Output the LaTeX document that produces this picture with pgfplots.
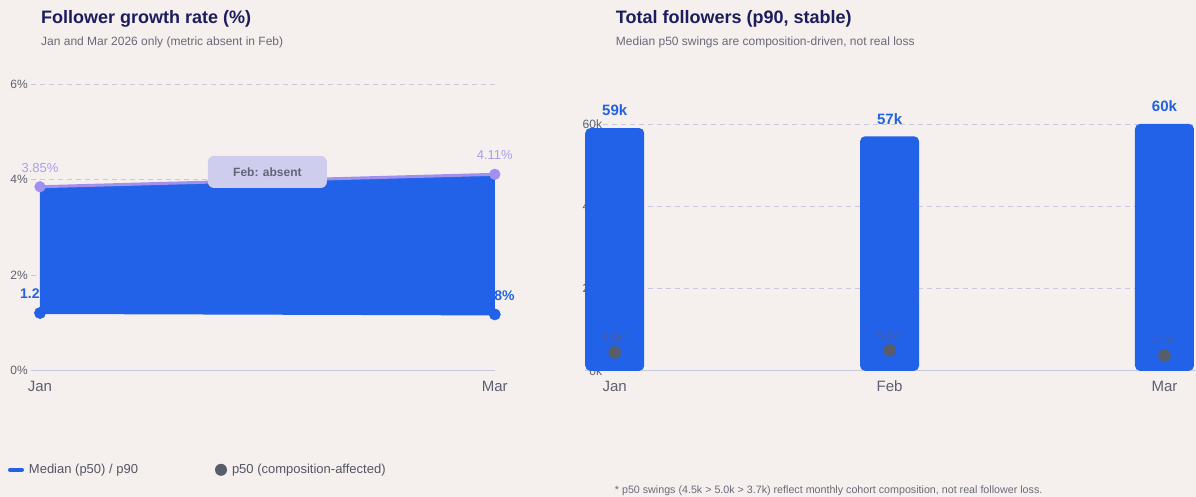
\documentclass[border=0pt]{standalone}
\usepackage{pgfplots}
\pgfplotsset{compat=1.18}
\usepackage{fontspec}
\setmainfont{Liberation Sans}
\definecolor{bgc}{RGB}{245,240,238}
\definecolor{pblue}{RGB}{34,98,232}
\definecolor{ppurple}{RGB}{160,145,238}
\definecolor{plabel}{RGB}{170,158,240}
\definecolor{navy}{RGB}{28,28,95}
\definecolor{subg}{RGB}{85,85,98}
\definecolor{subl}{RGB}{105,105,120}
\definecolor{tickg}{RGB}{95,95,112}
\definecolor{gridc}{RGB}{200,200,222}
\definecolor{dotg}{RGB}{88,93,108}
\definecolor{dotlab}{RGB}{74,92,165}
\definecolor{boxc}{RGB}{207,205,238}
\definecolor{boxt}{RGB}{100,100,118}
\pagecolor{bgc}
\begin{document}
\begin{tikzpicture}
% ---------- left chart ----------
\begin{axis}[
  set layers,
  at={(31pt,126pt)}, anchor=south west,
  scale only axis, width=464pt, height=287pt,
  xmin=-0.0396, xmax=2, ymin=0, ymax=6,
  xtick={0,2}, xticklabels={Jan,Mar},
  ytick={0,2,4,6}, yticklabels={0\%,2\%,4\%,6\%},
  axis x line*=bottom, axis y line*=left,
  x axis line style={draw=gridc, line width=1pt},
  y axis line style={draw=none},
  major tick length=0pt,
  ymajorgrids, grid style={gridc, dash pattern=on 5pt off 4pt, line width=0.8pt},
  yticklabel style={font=\fontsize{12}{14}\selectfont, text=tickg, anchor=east, inner sep=0pt, xshift=-3pt},
  xticklabel style={font=\fontsize{15}{17}\selectfont, text=tickg, anchor=north, inner sep=0pt, yshift=-10pt},
  clip=false,
  legend columns=2, legend cell align=left,
  legend style={at={(-0.0496,-0.345)}, anchor=west, draw=none, fill=none, inner sep=0pt, outer sep=0pt,
    font=\fontsize{13}{15}\selectfont,
    nodes={inner sep=0pt, text=subg},
    /tikz/every odd column/.append style={column sep=5pt},
    /tikz/every even column/.append style={column sep=77pt}},
]
\addplot[forget plot, only marks, mark=none, nodes near coords, point meta=explicit symbolic,
  every node near coord/.append style={anchor=center, yshift=19pt, font=\bfseries\fontsize{14}{16}\selectfont, text=pblue}]
  coordinates {(0,1.21)[1.21\%] (2,1.18)[1.18\%]};
\addplot[forget plot, fill=pblue, draw=none] coordinates {(0,1.21) (2,1.18) (2,4.11) (0,3.85) (0,1.21)};
\addplot[forget plot, color=pblue, line width=2pt, mark=*, mark size=5.6pt, mark options={solid, line width=0.6pt}]
  coordinates {(0,1.21) (2,1.18)};
\addplot[forget plot, color=ppurple, line width=3pt, mark=*, mark size=5.3pt, mark options={solid, line width=0.6pt},
  nodes near coords, point meta=explicit symbolic,
  every node near coord/.append style={anchor=center, yshift=19pt, font=\fontsize{13}{15}\selectfont, text=plabel}]
  coordinates {(0,3.85)[3.85\%] (2,4.11)[4.11\%]};
\node[fill=boxc, rounded corners=6pt, minimum width=119pt, minimum height=32pt, inner sep=0pt,
  font=\bfseries\fontsize{12}{14}\selectfont, text=boxt] at (axis cs:1,4.16) {Feb: absent};
\addlegendimage{legend image code/.code={\path[draw=none, fill=none] (0pt,-3pt) rectangle (16pt,3pt); \draw[draw=pblue, line width=4pt, line cap=round] (2pt,0pt) -- (14pt,0pt);}}
\addlegendentry{Median (p50) / p90}
\addlegendimage{legend image code/.code={\fill[fill=dotg, draw=none] (6pt,0pt) circle[radius=6pt];}}
\addlegendentry{p50 (composition-affected)}
\end{axis}
% ---------- right chart ----------
\begin{axis}[
  set layers,
  at={(585pt,126pt)}, anchor=south west,
  scale only axis, width=611pt, height=247pt,
  xmin=-0.109, xmax=2.113, ymin=0, ymax=60,
  xtick={0,1,2}, xticklabels={Jan,Feb,Mar},
  ytick={0,20,40,60}, yticklabels={0k,20k,40k,60k},
  axis x line*=bottom, axis y line*=left,
  x axis line style={draw=gridc, line width=1pt},
  y axis line style={draw=none},
  major tick length=0pt,
  ymajorgrids, grid style={gridc, dash pattern=on 5pt off 4pt, line width=0.8pt},
  yticklabel style={font=\fontsize{12}{14}\selectfont, text=tickg, anchor=east, inner sep=0pt, xshift=17.5pt},
  xticklabel style={font=\fontsize{15}{17}\selectfont, text=tickg, anchor=north, inner sep=0pt, yshift=-10pt},
  clip=false,
]
\addplot[ybar, bar width=59pt, fill=pblue, draw=none, rounded corners=5pt,
  nodes near coords, point meta=explicit symbolic,
  every node near coord/.append style={anchor=center, yshift=17.5pt, font=\bfseries\fontsize{15}{17}\selectfont, text=pblue}]
  coordinates {(0,59)[59k] (1,57)[57k] (2,60)[60k]};
\addplot[only marks, color=dotg, mark=*, mark size=6pt, mark options={solid, line width=0.6pt},
  nodes near coords, point meta=explicit symbolic,
  every node near coord/.append style={anchor=center, yshift=15pt, font=\fontsize{10.5}{12}\selectfont, text=dotlab}]
  coordinates {(0,4.5)[4.5k*] (1,5.0)[5.0k*] (2,3.7)[3.7k*]};
\end{axis}
% ---------- titles ----------
\node[anchor=base west, inner sep=0pt, font=\bfseries\fontsize{18}{21}\selectfont, text=navy] at (41pt,473.5pt) {Follower growth rate (\%)};
\node[anchor=base west, inner sep=0pt, font=\fontsize{12}{14}\selectfont, text=subl] at (41pt,451pt) {Jan and Mar 2026 only (metric absent in Feb)};
\node[anchor=base west, inner sep=0pt, font=\bfseries\fontsize{18}{21}\selectfont, text=navy] at (616pt,473.5pt) {Total followers (p90, stable)};
\node[anchor=base west, inner sep=0pt, font=\fontsize{12}{14}\selectfont, text=subl] at (616pt,451pt) {Median p50 swings are composition-driven, not real loss};
\node[anchor=base west, inner sep=0pt, font=\fontsize{10.7}{12}\selectfont, text=subl] at (615pt,3.5pt) {* p50 swings (4.5k > 5.0k > 3.7k) reflect monthly cohort composition, not real follower loss.};
\path (0pt,0pt) rectangle (1196pt,497pt);
\end{tikzpicture}
\end{document}
